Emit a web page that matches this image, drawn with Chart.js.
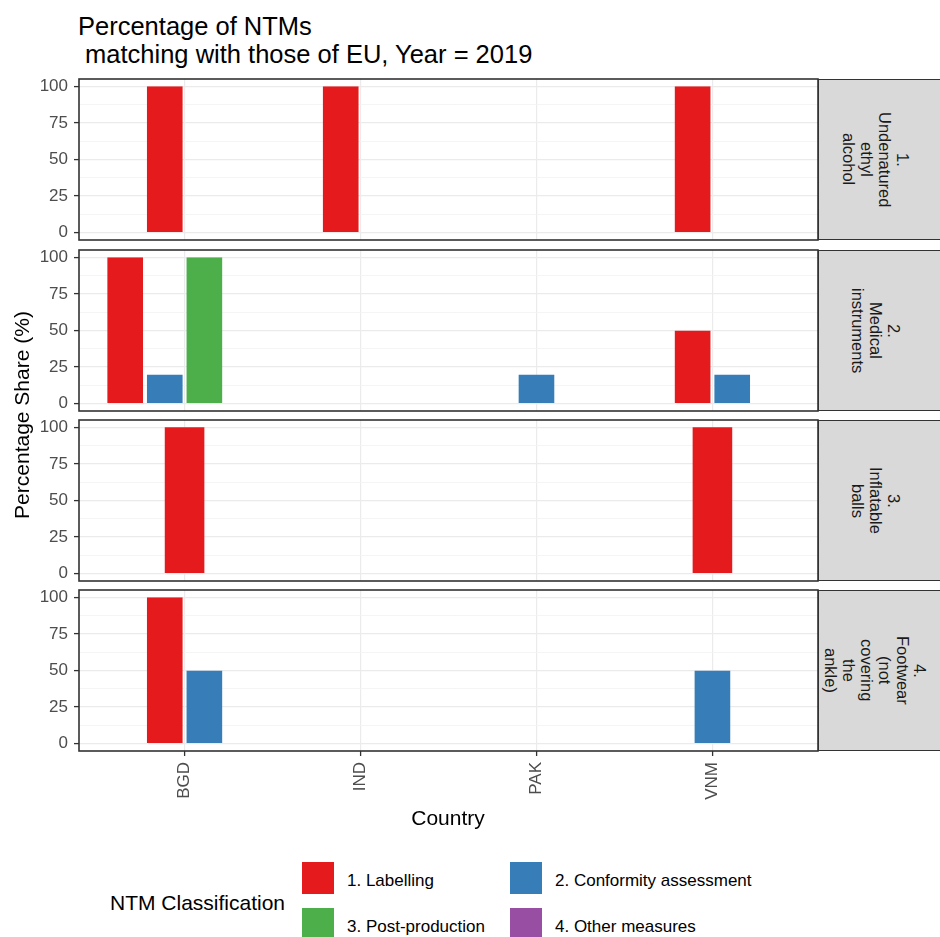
<!DOCTYPE html>
<html>
<head>
<meta charset="utf-8">
<script src="https://cdn.jsdelivr.net/npm/chart.js@4.4.1/dist/chart.umd.min.js"></script>
<style>
html, body { margin:0; padding:0; background:#fff; }
body { width:940px; height:937px; overflow:hidden; position:relative; font-family:"Liberation Sans", Arial, sans-serif; }
canvas { position:absolute; left:0; }
.txt { position:absolute; white-space:pre; }
.strip { position:absolute; left:818px; width:140px; background:#d9d9d9; border:1.6px solid #333; box-sizing:border-box; }
.stripInner { position:absolute; left:0; top:0; width:112px; height:100%; display:flex; align-items:center; justify-content:center; }
.stripText { writing-mode:vertical-rl; text-align:center; font-size:16.5px; line-height:17.8px; color:#1a1a1a; white-space:nowrap; }
.key { position:absolute; width:32px; height:32px; }
</style>
</head>
<body>
<script>
// ---------------- data ----------------
const countries = ['BGD', 'IND', 'PAK', 'VNM'];
const seriesNames = ['1. Labelling', '2. Conformity assessment', '3. Post-production', '4. Other measures'];
const seriesColors = ['#E41A1C', '#377EB8', '#4DAF4A', '#984EA3'];
const panelLabels = [
  ['1.', 'Undenatured', 'ethyl', 'alcohol'],
  ['2.', 'Medical', 'instruments'],
  ['3.', 'Inflatable', 'balls'],
  ['4.', 'Footwear', '(not', 'covering', 'the', 'ankle)']
];
const yTickValues = [0, 25, 50, 75, 100];
const yMinorValues = [12.5, 37.5, 62.5, 87.5];
// values per panel: one array per series, one value per country (null = no record)
const panel1Values = [[100, 100, null, 100], [null, null, null, null], [null, null, null, null], [0, 0, null, 0]];
const panel2Values = [[100, null, null, 50], [20, null, 20, 20], [100, null, null, null], [0, null, null, null]];
const panel3Values = [[100, null, null, 100], [null, null, null, null], [null, null, null, null], [null, null, null, null]];
const panel4Values = [[100, null, null, null], [50, null, null, 50], [null, null, null, null], [null, null, null, null]];
const panelValues = [panel1Values, panel2Values, panel3Values, panel4Values];

// ---------------- layout ----------------
const FONT = '"Liberation Sans", Arial, sans-serif';
const PL = 79, PR = 818, PH = 161;
const panelTops = [79, 250, 420, 590];

function addText(text, css) {
  const d = document.createElement('div');
  d.className = 'txt';
  d.textContent = text;
  d.style.cssText += css;
  document.body.appendChild(d);
  return d;
}

const panelBorder = {
  id: 'panelBorder',
  afterDraw(chart) {
    const { ctx, chartArea: a } = chart;
    ctx.save();
    ctx.strokeStyle = '#333333';
    ctx.lineWidth = 1.6;
    ctx.strokeRect(a.left, a.top, a.right - a.left, a.bottom - a.top);
    ctx.restore();
  }
};

function makePanel(i) {
  const top = panelTops[i];
  const isLast = i === panelTops.length - 1;
  const padTop = 20, padBottom = isLast ? 0 : 20, xAxisH = isLast ? 70 : 0;
  const w = PR + 4, h = padTop + PH + padBottom + xAxisH;
  const canvas = document.createElement('canvas');
  canvas.width = w; canvas.height = h;
  canvas.style.cssText = `top:${top - padTop}px;width:${w}px;height:${h}px;`;
  document.body.appendChild(canvas);

  const values = panelValues[i];
  const multi = countries.some((_, c) => values.filter(s => s[c] !== null).length > 1);
  const slot = 0.225 * (PR - PL) / 4.2;
  const gap = multi ? slot * 0.05 : 0;

  const datasets = seriesNames.map((name, s) => ({
    label: name,
    data: countries.map((_, c) => ({ x: c + 1, y: values[s][c] })),
    backgroundColor: seriesColors[s],
    borderColor: 'rgba(0,0,0,0)',
    borderWidth: { left: gap, right: gap, top: 0, bottom: 0 },
    inflateAmount: 0,
    barThickness: slot,
    skipNull: true
  }));

  const isMajor = c => c.tick && yTickValues.includes(c.tick.value);

  new Chart(canvas, {
    type: 'bar',
    data: { datasets },
    plugins: [panelBorder],
    options: {
      responsive: false,
      animation: false,
      devicePixelRatio: 1,
      layout: { padding: { top: padTop, bottom: padBottom, left: 0, right: 4 } },
      plugins: { legend: { display: false }, tooltip: { enabled: false } },
      scales: {
        x: {
          type: 'linear', min: 0.4, max: 4.6, offset: false,
          afterBuildTicks: ax => { ax.ticks = countries.map((_, c) => ({ value: c + 1 })); },
          afterFit: ax => { ax.height = xAxisH; },
          border: { display: false },
          grid: { offset: false, color: '#ebebeb', lineWidth: 1.2, drawTicks: isLast, tickLength: 5, tickColor: '#333333', tickWidth: 1.3 },
          ticks: {
            display: isLast, autoSkip: false, minRotation: 90, maxRotation: 90, padding: 6,
            color: '#4d4d4d', font: { family: FONT, size: 17 },
            callback: v => countries[v - 1]
          }
        },
        y: {
          min: -5, max: 105,
          afterBuildTicks: ax => { ax.ticks = yTickValues.concat(yMinorValues).sort((a, b) => a - b).map(v => ({ value: v })); },
          afterFit: ax => { ax.width = PL; },
          border: { display: false },
          grid: {
            color: c => isMajor(c) ? '#ebebeb' : '#f2f2f2',
            lineWidth: c => isMajor(c) ? 1.2 : 0.8,
            tickLength: 5,
            tickColor: c => isMajor(c) ? '#333333' : 'rgba(0,0,0,0)',
            tickWidth: 1.3
          },
          ticks: {
            autoSkip: false, padding: 6, color: '#4d4d4d', font: { family: FONT, size: 17 },
            callback: v => yTickValues.includes(v) ? String(v) : ''
          }
        }
      }
    }
  });

  // facet strip
  const strip = document.createElement('div');
  strip.className = 'strip';
  strip.style.top = top + 'px';
  strip.style.height = PH + 'px';
  const inner = document.createElement('div');
  inner.className = 'stripInner';
  const txt = document.createElement('div');
  txt.className = 'stripText';
  panelLabels[i].forEach((line, k) => {
    if (k) txt.appendChild(document.createElement('br'));
    txt.appendChild(document.createTextNode(line));
  });
  inner.appendChild(txt);
  strip.appendChild(inner);
  document.body.appendChild(strip);
}

// title
addText('Percentage of NTMs', 'left:78px;top:12px;font-size:25.5px;line-height:28px;color:#000;');
addText(' matching with those of EU, Year = 2019', 'left:78px;top:40px;font-size:25.5px;line-height:28px;color:#000;');

panelTops.forEach((_, i) => makePanel(i));

// axis titles
addText('Percentage Share (%)', 'left:-128px;top:403px;width:300px;height:24px;line-height:24px;text-align:center;font-size:21px;color:#000;transform:rotate(-90deg);');
addText('Country', 'left:298px;top:806px;width:300px;line-height:24px;text-align:center;font-size:21px;color:#000;');

// legend
addText('NTM Classification', 'left:110px;top:891px;line-height:24px;font-size:21px;color:#000;');
const keyPos = [[302, 862], [510, 862], [302, 908], [510, 908]];
seriesNames.forEach((name, s) => {
  const [kx, ky] = keyPos[s];
  const k = document.createElement('div');
  k.className = 'key';
  k.style.left = kx + 'px'; k.style.top = ky + 'px'; k.style.background = seriesColors[s];
  document.body.appendChild(k);
  addText(name, `left:${kx + 45}px;top:${ky + 9}px;line-height:20px;font-size:17px;color:#000;`);
});
</script>
</body>
</html>
